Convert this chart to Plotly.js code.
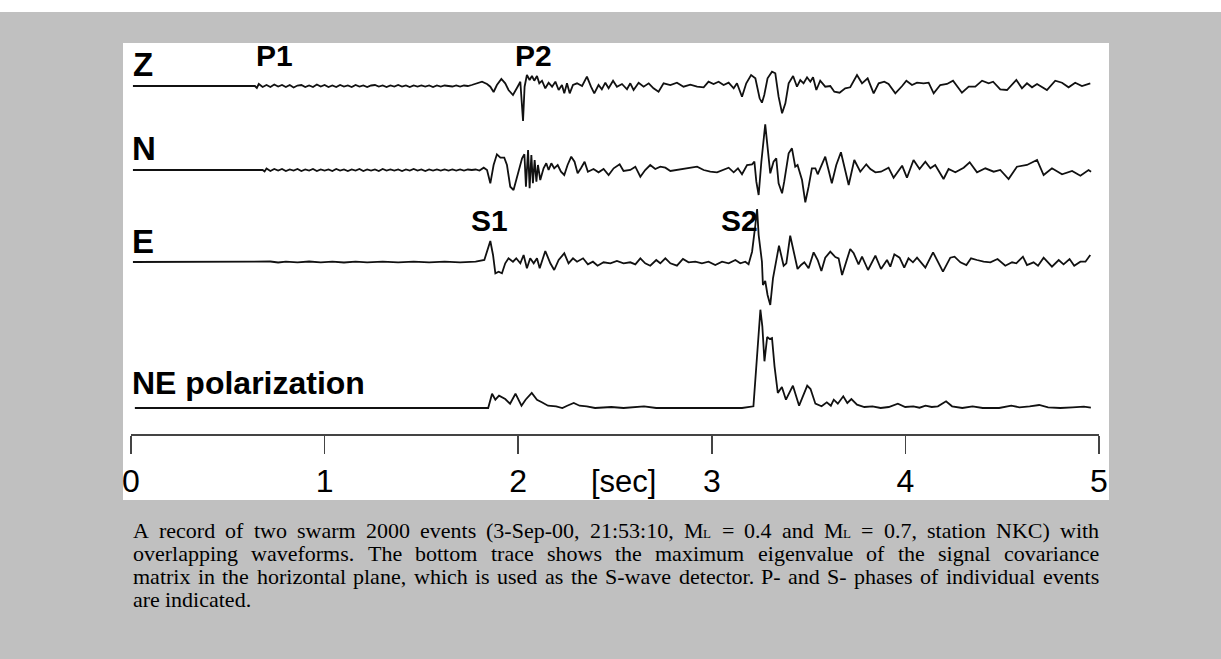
<!DOCTYPE html>
<html><head><meta charset="utf-8">
<script src="https://cdn.plot.ly/plotly-3.0.1.min.js"></script>
<style>html,body{margin:0;padding:0;background:#c0c0c0;overflow:hidden}#chart{width:1221px;height:659px}</style>
</head><body><div id="chart"></div>
<script>
// ---- data: [time in s, amplitude] ----
const zTrace = [[0.01,0],[0.64,0],[0.65,-2],[0.66,2],[0.68,-1],[0.70,1],[0.72,-1],[0.74,1.5],[0.76,-0.5],[0.78,1],[0.80,-1],[0.82,1],[0.84,-1.5],[0.86,0.5],[0.88,1],[0.90,-1],[0.92,0.5],[0.94,-1],[0.96,1.5],[0.98,-0.5],[1.00,1],[1.02,-1],[1.04,0.5],[1.06,-1],[1.08,1],[1.10,-0.5],[1.12,0.5],[1.14,-1],[1.16,1],[1.18,-0.5],[1.20,0.5],[1.22,-1],[1.24,0.5],[1.26,1],[1.28,-0.5],[1.30,0.5],[1.32,-1],[1.34,0.5],[1.36,-0.5],[1.38,1],[1.40,-0.5],[1.42,0.5],[1.44,-1],[1.46,0.5],[1.48,-0.5],[1.50,0.5],[1.52,-0.5],[1.54,0.5],[1.56,-1],[1.58,0.5],[1.60,-0.5],[1.62,0.5],[1.64,0],[1.66,-0.5],[1.68,0.5],[1.70,-0.5],[1.72,0.5],[1.74,0],[1.76,1],[1.787,2.7],[1.813,4.3],[1.839,2],[1.856,-0.7],[1.873,-6],[1.89,1],[1.913,7],[1.933,2.7],[1.95,-4],[1.973,-9],[1.997,-0.7],[2.011,4.3],[2.025,-35],[2.033,-0.7],[2.045,11],[2.059,6],[2.071,10],[2.083,5.3],[2.097,10],[2.109,2.7],[2.123,5.3],[2.14,-2.3],[2.157,3.3],[2.175,-0.7],[2.192,4.3],[2.209,-4],[2.226,1],[2.238,-7.3],[2.252,2.7],[2.266,-7.3],[2.283,1],[2.304,2.7],[2.33,0],[2.355,9.3],[2.376,-0.7],[2.393,-7.3],[2.415,1],[2.432,-3.3],[2.45,3.3],[2.467,-2.3],[2.49,5.3],[2.51,-0.7],[2.536,2],[2.562,-3.3],[2.579,2.7],[2.596,-4],[2.622,3.3],[2.648,-0.7],[2.674,2.7],[2.699,-2.3],[2.725,-5.7],[2.751,2.7],[2.786,1],[2.82,3.3],[2.854,-0.7],[2.889,1.3],[2.924,-0.7],[2.958,-1.3],[2.983,4.3],[3.009,2],[3.035,4.3],[3.061,1],[3.087,3.3],[3.113,-2.3],[3.13,2.7],[3.156,-10.7],[3.178,2.7],[3.203,11],[3.225,7.7],[3.247,-12.3],[3.259,-16.7],[3.271,-9],[3.288,7.7],[3.311,14.3],[3.328,12.7],[3.345,-10.7],[3.363,-27.3],[3.38,-17.3],[3.397,2.7],[3.42,10],[3.44,-0.7],[3.457,6],[3.474,2.7],[3.492,8.7],[3.509,4.3],[3.523,8.7],[3.54,-4],[3.56,5.3],[3.586,-0.7],[3.612,0],[3.633,-5.7],[3.66,-6.7],[3.689,-2.3],[3.715,-1.3],[3.75,11],[3.776,2.7],[3.805,7.7],[3.836,-7.3],[3.862,2.7],[3.891,4.3],[3.913,2],[3.948,-7.3],[3.983,0],[4.005,5.3],[4.034,1],[4.06,3.3],[4.094,2.7],[4.12,3.3],[4.146,-7.3],[4.18,1],[4.215,2],[4.246,5.3],[4.275,-2.3],[4.292,-6.7],[4.327,-0.7],[4.361,-0.7],[4.396,5.3],[4.43,2.7],[4.453,4.3],[4.49,-3.3],[4.525,-4],[4.573,6],[4.602,-2.3],[4.628,2.7],[4.654,-1.3],[4.68,2],[4.731,-4],[4.774,5.3],[4.809,3.3],[4.843,-1.3],[4.877,3.3],[4.912,0],[4.955,2.7]];

const nTrace = [[0.01,0],[0.68,0],[0.69,-1.5],[0.70,1.5],[0.72,-1],[0.74,1],[0.76,-0.5],[0.78,1],[0.80,-1],[0.82,0.5],[0.84,-0.5],[0.86,1],[0.88,-1],[0.90,0.5],[0.92,-0.5],[0.94,1],[0.96,-1],[0.98,0.5],[1.00,-0.5],[1.02,0.5],[1.04,-1],[1.06,1],[1.08,-0.5],[1.10,0.5],[1.12,-1],[1.14,0.5],[1.16,-0.5],[1.18,1],[1.20,-1],[1.22,0.5],[1.24,-0.5],[1.26,0.5],[1.28,-1],[1.30,1],[1.32,-0.5],[1.34,0.5],[1.36,-0.5],[1.38,0.5],[1.40,-1],[1.42,0.5],[1.44,-0.5],[1.46,1],[1.48,-0.5],[1.50,0.5],[1.52,-1],[1.54,0.5],[1.56,-0.5],[1.58,0.5],[1.60,-0.5],[1.62,0.5],[1.64,-0.5],[1.66,0.5],[1.68,-0.5],[1.70,0.5],[1.72,-0.5],[1.74,0.5],[1.76,0],[1.78,0.5],[1.80,-0.5],[1.822,2.3],[1.839,0],[1.856,-13.3],[1.873,5],[1.89,15.7],[1.908,12.3],[1.928,12.3],[1.942,5],[1.959,-16.7],[1.976,-20],[1.997,-5],[2.02,11.7],[2.032,15.7],[2.04,-16.7],[2.051,20],[2.059,-18.3],[2.068,15],[2.076,-13.3],[2.085,10],[2.094,-11.7],[2.102,5],[2.114,-10],[2.131,1.7],[2.145,6.7],[2.157,0],[2.171,6.7],[2.186,1.7],[2.204,5],[2.221,-1.7],[2.238,-5],[2.255,5],[2.274,13.3],[2.291,8.3],[2.307,-3.3],[2.324,1.7],[2.343,8.3],[2.36,-1.7],[2.389,1],[2.415,-2.3],[2.441,1],[2.467,-5],[2.493,1.7],[2.524,5.7],[2.544,-1],[2.579,0],[2.605,3.3],[2.631,-6.7],[2.656,0],[2.682,5],[2.708,1],[2.734,3.3],[2.76,2.3],[2.786,-1],[2.82,0],[2.854,1],[2.889,1.7],[2.924,3.3],[2.958,0],[2.992,-1.7],[3.027,-2.3],[3.061,0],[3.087,2.3],[3.113,-2.3],[3.135,1.7],[3.156,-4.3],[3.182,5],[3.208,5.7],[3.22,8.3],[3.23,-11.7],[3.242,-25],[3.256,8.3],[3.276,45.7],[3.302,-3.3],[3.319,8.3],[3.333,11.7],[3.345,-13.3],[3.363,-23.3],[3.374,-11.7],[3.397,16.7],[3.414,21.7],[3.431,3.3],[3.443,5],[3.466,-10],[3.483,-32.3],[3.5,-16.7],[3.517,1.7],[3.535,1.7],[3.547,-4.3],[3.56,1.7],[3.586,13.3],[3.62,-13.3],[3.643,5],[3.667,17.7],[3.707,-15],[3.736,10],[3.767,-1.7],[3.798,5.7],[3.819,1],[3.845,-2.3],[3.874,-1.7],[3.913,2.3],[3.939,-7.7],[3.983,4.3],[4.008,-7.7],[4.042,10],[4.073,1],[4.103,8.3],[4.129,1.7],[4.154,5],[4.197,-9],[4.223,1],[4.258,-2.3],[4.301,2.3],[4.332,7.7],[4.37,-2.3],[4.413,1.7],[4.456,-1.7],[4.49,0],[4.533,-9],[4.576,3.3],[4.628,5],[4.68,10],[4.714,-5],[4.757,1.7],[4.809,-4.3],[4.861,-1],[4.904,-5.7],[4.946,0],[4.959,-1.7]];

const eTrace = [[0.01,0],[0.68,0],[0.72,0.5],[0.76,-0.5],[0.80,0.3],[0.86,-0.3],[0.92,0.5],[0.98,-0.3],[1.04,0.3],[1.10,-0.5],[1.16,0.3],[1.22,-0.3],[1.30,0.3],[1.38,-0.3],[1.46,0.3],[1.54,-0.3],[1.62,0.3],[1.70,-0.3],[1.78,0.3],[1.825,2],[1.842,13.7],[1.856,21],[1.87,7],[1.882,-11.3],[1.899,-9.7],[1.916,-11.3],[1.933,-1.3],[1.95,3.7],[1.973,0.3],[1.99,3.7],[2.011,-1.3],[2.028,7],[2.045,-6.3],[2.062,3.7],[2.08,-1.3],[2.097,3.7],[2.111,-6.3],[2.14,11],[2.166,-1.3],[2.186,-8],[2.209,2],[2.238,8.7],[2.26,-1.3],[2.283,3.7],[2.304,0.3],[2.335,3.7],[2.36,-2.3],[2.386,0.3],[2.41,-3.7],[2.441,-0.3],[2.476,-1.3],[2.51,1],[2.544,-1.3],[2.579,-0.3],[2.605,-2.3],[2.631,3.7],[2.656,-1.3],[2.682,-3.7],[2.713,2],[2.734,-1.3],[2.76,3.7],[2.786,-1.3],[2.82,-3.7],[2.851,3],[2.88,-0.3],[2.915,0.3],[2.949,-1.3],[2.983,0.3],[3.018,-3],[3.053,0.3],[3.087,-1.3],[3.122,2],[3.147,-1.3],[3.173,0.3],[3.19,-2.3],[3.208,10.3],[3.225,37],[3.234,53],[3.242,27],[3.259,0.3],[3.264,-23],[3.276,-19],[3.288,-33],[3.302,-43],[3.316,-16.3],[3.333,3.7],[3.347,16.3],[3.371,-3.7],[3.385,-1.3],[3.405,26.3],[3.423,10.3],[3.443,-7],[3.461,-3],[3.478,-0.3],[3.5,-6.3],[3.526,9.7],[3.547,2],[3.566,-9],[3.586,4.3],[3.612,10.3],[3.638,5],[3.655,3.7],[3.673,-13],[3.715,13],[3.733,8.7],[3.758,-2.3],[3.776,5.3],[3.807,-8],[3.845,6.3],[3.874,-7],[3.905,2],[3.922,-4.7],[3.943,7.7],[3.97,4.3],[3.994,-5.7],[4.016,3.7],[4.039,-0.3],[4.06,4.3],[4.103,-5.7],[4.143,9.7],[4.194,-9.7],[4.232,4.3],[4.254,5.3],[4.284,-0.3],[4.315,-3],[4.339,3.7],[4.37,2],[4.404,0.3],[4.439,-0.3],[4.476,3],[4.516,-3.7],[4.551,-0.3],[4.573,-1.3],[4.607,5.3],[4.628,-3],[4.662,-0.3],[4.685,-3.7],[4.714,4.3],[4.757,-4.7],[4.792,2],[4.817,-2.3],[4.848,3],[4.872,-3.7],[4.904,0.3],[4.93,0.3],[4.955,7]];

const nePolarization = [[0.02,0],[1.845,0],[1.865,14.3],[1.882,8.3],[1.901,12.3],[1.933,9],[1.958,4.3],[1.986,14.3],[2.017,2.3],[2.038,8.3],[2.07,15],[2.097,8.3],[2.122,5.7],[2.154,2.3],[2.196,1.7],[2.228,0],[2.253,2.3],[2.287,5],[2.317,2.3],[2.354,1.7],[2.397,0],[2.481,1],[2.544,0],[2.65,1.7],[2.713,0],[2.86,0.3],[3.008,0],[3.156,0],[3.215,1.7],[3.236,58],[3.251,98.3],[3.261,81.7],[3.272,46.7],[3.286,71],[3.299,69],[3.311,70],[3.324,41.7],[3.341,15],[3.362,21],[3.383,8.3],[3.419,22.3],[3.451,2.3],[3.493,22.3],[3.51,19],[3.535,4.3],[3.567,1.7],[3.594,5.7],[3.615,2.3],[3.63,8.3],[3.651,4.3],[3.679,11.7],[3.7,5],[3.721,9],[3.75,3.3],[3.788,1],[3.83,1.7],[3.872,0],[3.914,1],[3.961,4.3],[3.999,1],[4.041,1.7],[4.073,0.3],[4.104,2.3],[4.136,1],[4.168,1.7],[4.21,6.7],[4.241,1.7],[4.294,0],[4.347,1.7],[4.399,0],[4.484,0],[4.547,2.3],[4.589,0.7],[4.642,1.7],[4.691,3],[4.737,0.7],[4.8,0],[4.863,0.7],[4.922,1.3],[4.958,0.3]];

const traceNames = ['Z', 'N', 'E', 'NE polarization'];
const phaseNames = ['P1', 'P2', 'S1', 'S2'];
const tickValues = [0, 1, 2, 3, 4, 5];
const tickLabels = ['0', '1', '2', '3', '4', '5'];
const axisUnit = '[sec]';
const captionLines = [
  'A record of two swarm 2000 events (3-Sep-00, 21:53:10, M_L = 0.4 and M_L = 0.7, station NKC) with',
  'overlapping waveforms. The bottom trace shows the maximum eigenvalue of the signal covariance',
  'matrix in the horizontal plane, which is used as the S-wave detector. P- and S- phases of individual events',
  'are indicated.'
];

// ---- layout geometry (pixels) ----
const W = 1221, H = 659, ML = 131, MR = 122, MT = 43, MB = 225;
const PW = W - ML - MR, PH = H - MT - MB, YB = H - MB;
const px = x => (x - ML) / PW;
const py = y => (YB - y) / PH;
const offsets = [YB - 86, YB - 170, YB - 262, YB - 408];
const series = [zTrace, nTrace, eTrace, nePolarization];

const data = series.map((s, i) => ({
  type: 'scatter', mode: 'lines', name: traceNames[i],
  x: s.map(p => p[0]), y: s.map(p => p[1] + offsets[i]),
  line: {color: '#111', width: 1.8}, hoverinfo: 'skip'
}));

const ann = [];
function label(text, x, y, size, weight, family) {
  ann.push({text: text, xref: 'paper', yref: 'paper', x: px(x), y: py(y),
    xanchor: 'left', yanchor: 'middle', showarrow: false, borderpad: 0,
    font: {family: family || 'Arial', size: size, color: '#000', weight: weight || 400}});
}
// trace names and phase markers
label(traceNames[0], 132, 65, 33, 700);
label(traceNames[1], 131, 148.5, 33, 700);
label(traceNames[2], 131, 241, 33, 700);
label(traceNames[3], 130.5, 382.5, 32, 700);
label(phaseNames[0], 255, 55.5, 30, 700);
label(phaseNames[1], 514, 55.5, 30, 700);
label(phaseNames[2], 469.5, 221, 30, 700);
label(phaseNames[3], 719.5, 220.5, 30, 700);
label(axisUnit, 590, 481.5, 31, 400);

// caption, justified; "X_Y" words carry a subscript
const capFont = "'Liberation Serif', 'Times New Roman', serif";
const capSize = 22, subSize = 13;
const cv = document.createElement('canvas').getContext('2d');
function textW(t, size) { cv.font = size + 'px ' + capFont; return cv.measureText(t).width; }
function splitWord(word) {
  const k = word.indexOf('_');
  return k < 0 ? [word, ''] : [word.slice(0, k), word.slice(k + 1)];
}
function measure(word) {
  const [main, sub] = splitWord(word);
  return textW(main, capSize) + (sub ? textW(sub, subSize) : 0);
}
const capLeft = 132, capRight = 1098, capTop = 530, capStep = 23;
const spaceW = textW(' ', capSize);
captionLines.forEach((line, li) => {
  const words = line.split(' ');
  const widths = words.map(measure);
  const sum = widths.reduce((a, b) => a + b, 0);
  const last = li === captionLines.length - 1;
  const gap = last ? spaceW : (capRight - capLeft - sum) / (words.length - 1);
  const yy = capTop + li * capStep;
  let x = capLeft;
  words.forEach((w, wi) => {
    const [main, sub] = splitWord(w);
    label(main, x, yy, capSize, 400, capFont);
    if (sub) label(sub, x + textW(main, capSize), yy + 3.5, subSize, 400, capFont);
    x += widths[wi] + gap;
  });
});

const layout = {
  width: W, height: H, showlegend: false,
  paper_bgcolor: '#c0c0c0', plot_bgcolor: 'rgba(0,0,0,0)',
  margin: {l: ML, r: MR, t: MT, b: MB, pad: 0},
  xaxis: {range: [0, 5], tickmode: 'array', tickvals: tickValues, ticktext: tickLabels,
    ticks: 'outside', ticklen: 18, tickwidth: 1.5, tickcolor: '#444',
    showline: true, linecolor: '#444', linewidth: 2, showgrid: false, zeroline: false,
    tickfont: {family: 'Arial', size: 32, color: '#000'}, fixedrange: true},
  yaxis: {range: [0, PH], visible: false, fixedrange: true},
  shapes: [
    {type: 'rect', xref: 'paper', yref: 'paper', x0: px(0), x1: px(W), y0: py(12), y1: py(0),
     fillcolor: '#ffffff', line: {width: 0}, layer: 'below'},
    {type: 'rect', xref: 'paper', yref: 'paper', x0: px(123), x1: px(1109), y0: py(500), y1: py(43),
     fillcolor: '#ffffff', line: {width: 0}, layer: 'below'}
  ],
  annotations: ann
};
Plotly.newPlot('chart', data, layout, {displayModeBar: false, staticPlot: true});
</script></body></html>
